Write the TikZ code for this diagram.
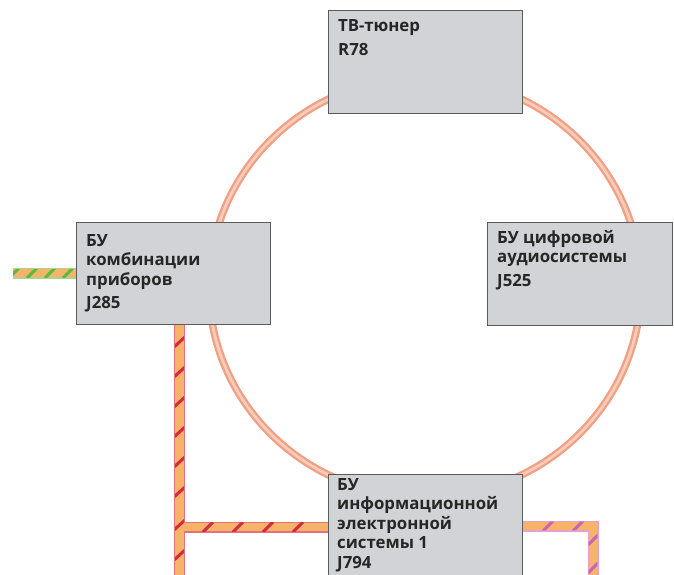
\documentclass[tikz,border=0pt]{standalone}
\usepackage{fontspec}
\setmainfont{Open Sans}
\usetikzlibrary{calc,backgrounds}

\definecolor{boxfill}{HTML}{D1D3D6}
\definecolor{boxline}{HTML}{5A5B5D}
\definecolor{txt}{HTML}{262626}
\definecolor{ringout}{HTML}{F0A084}
\definecolor{ringin}{HTML}{F9CDB9}
\definecolor{cableorange}{HTML}{F7B469}
\definecolor{redstripe}{HTML}{D62A3E}
\definecolor{rededge}{HTML}{E2737C}
\definecolor{pinkstripe}{HTML}{C764B6}
\definecolor{pinkedge}{HTML}{E6A0D2}
\definecolor{greenstripe}{HTML}{5DB846}
\definecolor{greenedge}{HTML}{A9D68F}

\tikzset{
  unit/.style={draw=boxline, fill=boxfill, line width=1.4pt, inner sep=0pt,
    anchor=north west},
  unittext/.style={anchor=base west, inner sep=0pt, text=txt,
    font=\fontsize{16.8}{19.5}\selectfont\bfseries},
  cableedge/.style={line width=11pt, line cap=butt, line join=miter},
  cablecore/.style={line width=8.6pt, line cap=butt, line join=miter, draw=cableorange},
  stripe/.style={line width=3pt, line cap=butt}
}

\newcommand\lines[1]{\parbox[t]{190pt}{\raggedright #1}}

\begin{document}
\begin{tikzpicture}[x=1pt,y=-1pt]
\useasboundingbox (0,0) rectangle (674,575);

% control units
\node[unit, minimum width=194pt, minimum height=103pt] (r78) at (328,10) {};
\node[unit, minimum width=194pt, minimum height=102pt] (j285) at (76,222) {};
\node[unit, minimum width=185pt, minimum height=103pt] (j525) at (487,222) {};
\node[unit, minimum width=194pt, minimum height=110pt] (j794) at (328,474) {};

% cable end points
\coordinate (gstart) at (13,273);
\coordinate (rtop) at (j285.south -| 179.5,0);
\coordinate (rbot) at (179.5,580);
\coordinate (rjoin) at (179.5,527);
\coordinate (pcorner) at (593,526);
\coordinate (pbot) at (593,580);

\begin{pgfonlayer}{background}
% optical ring
\draw[ringout, line width=7.5pt] (425,287) ellipse [x radius=216, y radius=210];
\draw[ringin, line width=2.8pt] (425,287) ellipse [x radius=216, y radius=210];

% green/orange cable into J285
\draw[cableedge, greenedge] (gstart) -- (gstart -| j285.west);
\draw[cablecore] (gstart) -- (gstart -| j285.west);
\begin{scope}
  \clip (13,269) rectangle (76,277.3);
  \foreach \x in {14,32,50,68} \draw[stripe, greenstripe] (\x-5,278) -- (\x+5,268);
\end{scope}

% red/orange cable from J285 down, with branch to J794
\draw[cableedge, rededge] (rtop) -- (rbot);
\draw[cableedge, rededge] (rjoin) -- (rjoin -| j794.west);
\draw[cablecore] (rtop) -- (rbot);
\draw[cablecore] (rjoin) -- (rjoin -| j794.west);
\begin{scope}
  \clip (175.2,324) rectangle (183.8,580);
  \foreach \y in {342,372,402,432,462,492,525,555} \draw[stripe, redstripe] (174,\y+5) -- (185,\y-5);
\end{scope}
\begin{scope}
  \clip (175.2,522.7) rectangle (328,531.3);
  \foreach \x in {208,238,268,298} \draw[stripe, redstripe] (\x-5,532) -- (\x+5,522);
\end{scope}

% pink/orange cable from J794
\draw[cableedge, pinkedge] (j794.east |- pcorner) -- ([xshift=5.5pt]pcorner);
\draw[cableedge, pinkedge] ([yshift=-5.5pt]pcorner) -- (pbot);
\draw[cablecore] (j794.east |- pcorner) -- (pcorner) -- (pbot);
\begin{scope}
  \clip (522,521.7) rectangle (597.3,530.3) (588.7,521.7) rectangle (597.3,580);
  \foreach \x in {548,578} \draw[stripe, pinkstripe] (\x-5,531) -- (\x+5,521);
  \foreach \y in {540,568} \draw[stripe, pinkstripe] (588,\y+5) -- (598,\y-5);
\end{scope}
\end{pgfonlayer}

% labels
\node[unittext] (r78t) at ($(r78.north west)+(10,22)$)
  {\lines{ТВ-тюнер\\[4pt]R78}};
\node[unittext] (j285t) at ($(j285.north west)+(10,24)$)
  {\lines{БУ\\комбинации\\приборов\\[4pt]J285}};
\node[unittext] (j525t) at ($(j525.north west)+(10,21)$)
  {\lines{БУ цифровой\\аудиосистемы\\[4pt]J525}};
\node[unittext] (j794t) at ($(j794.north west)+(9,16)$)
  {\lines{БУ\\информационной\\электронной\\системы 1\\J794}};
\end{tikzpicture}
\end{document}
